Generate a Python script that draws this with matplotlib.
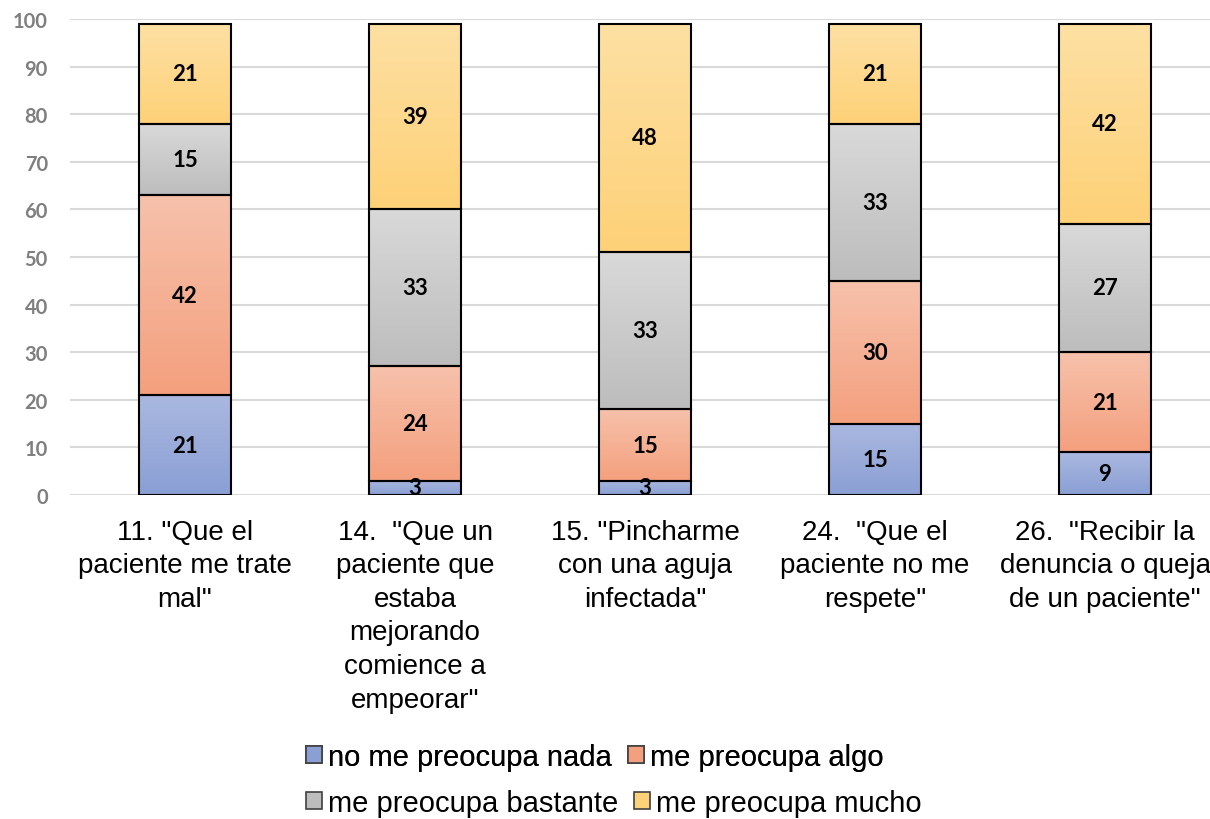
import numpy as np
import matplotlib.pyplot as plt
from matplotlib.patches import Patch
from matplotlib.colors import LinearSegmentedColormap

# Data
categories = ['11. "Que el\npaciente me trate\nmal"',
              '14.  "Que un\npaciente que\nestaba\nmejorando\ncomience a\nempeorar"',
              '15. "Pincharme\ncon una aguja\ninfectada"',
              '24.  "Que el\npaciente no me\nrespete"',
              '26.  "Recibir la\ndenuncia o queja\nde un paciente"']
series_names = ["no me preocupa nada", "me preocupa algo",
                "me preocupa bastante", "me preocupa mucho"]
nada = [21, 3, 3, 15, 9]
algo = [42, 24, 15, 30, 21]
bastante = [15, 33, 33, 33, 27]
mucho = [21, 39, 48, 21, 42]

# (top colour, bottom colour) for the gradient fills
grads = [("#aab8e0", "#8a9fd4"),
         ("#f7c1ab", "#f4a07e"),
         ("#d9d9d9", "#bdbdbd"),
         ("#fee0a3", "#fdd178")]

fig = plt.figure(figsize=(12.1, 8.2), dpi=100)
ax = fig.add_axes([70 / 1210, 1 - 496 / 820, 1150 / 1210, 476 / 820])

x = np.arange(len(categories))
width = 0.4
bottom = np.zeros(len(categories))
for vals, (ctop, cbot) in zip([nada, algo, bastante, mucho], grads):
    vals = np.array(vals, dtype=float)
    cmap = LinearSegmentedColormap.from_list("g", [cbot, ctop])
    grad = np.linspace(1, 0, 64).reshape(-1, 1)
    for xi, v, b in zip(x, vals, bottom):
        ax.imshow(grad, cmap=cmap, aspect="auto", interpolation="bicubic",
                  extent=(xi - width / 2, xi + width / 2, b, b + v), zorder=2)
    ax.bar(x, vals, width, bottom=bottom, facecolor="none",
           edgecolor="black", linewidth=1.5, zorder=3)
    for xi, v, b in zip(x, vals, bottom):
        ax.text(xi, b + v / 2, f"{int(v)}", ha="center", va="center",
                fontsize=16, fontweight="bold", family="Lato", zorder=4)
    bottom += vals

ax.set_xlim(-0.5, 4.5)
ax.set_ylim(0, 100)
ax.set_yticks(range(0, 101, 10))
ax.yaxis.grid(True, color="#d9d9d9", linewidth=1.5, zorder=0)
ax.set_axisbelow(True)
for s in ax.spines.values():
    s.set_visible(False)
ax.tick_params(axis="both", length=0)
ax.tick_params(axis="y", labelsize=14.5, labelcolor="#7f7f7f", pad=16)
for lab in ax.get_yticklabels():
    lab.set_fontweight("bold")
    lab.set_family("Lato")
ax.set_xticks(x)
ax.set_xticklabels(categories, fontsize=20, family="Liberation Sans",
                   linespacing=1.38)
ax.tick_params(axis="x", pad=17)

handles = [Patch(facecolor=cbot, edgecolor="#404040", linewidth=1.2)
           for ctop, cbot in grads]
leg_kw = dict(ncol=2, frameon=False, handlelength=0.55, handleheight=0.55,
              handletextpad=0.2, columnspacing=0.55, borderpad=0,
              borderaxespad=0,
              prop={"family": "Liberation Sans", "size": 21})
leg1 = fig.legend(handles[:2], series_names[:2], loc="center left",
                  bbox_to_anchor=(306 / 1210, 1 - 758 / 820), **leg_kw)
fig.add_artist(leg1)
fig.legend(handles[2:], series_names[2:], loc="center left",
           bbox_to_anchor=(306 / 1210, 1 - 804 / 820), **leg_kw)

fig.savefig("out.png", dpi=100)
